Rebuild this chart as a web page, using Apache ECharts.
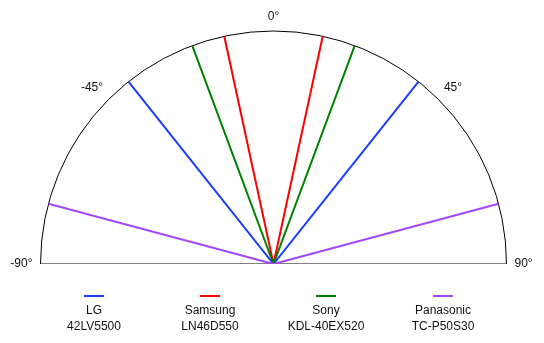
<!DOCTYPE html>
<html>
<head>
<meta charset="utf-8">
<script src="https://cdn.jsdelivr.net/npm/echarts@6/dist/echarts.min.js"></script>
<style>html,body{margin:0;padding:0;background:#fff}#c{width:544px;height:343px}</style>
</head>
<body>
<div id="c"></div>
<script>
// Data
var brands = ['LG', 'Samsung', 'Sony', 'Panasonic'];
var models = ['42LV5500', 'LN46D550', 'KDL-40EX520', 'TC-P50S30'];
var viewAngles = [38.5, 12.2, 20.4, 75.0]; // half viewing angle in degrees
var colors = ['#1a3cff', '#ff0000', '#008000', '#a347ff'];
var angleTicks = [-90, -45, 0, 45, 90];
var baseline = [[1, -90], [0, 0], [1, 90]];

var chart = echarts.init(document.getElementById('c'), null, {renderer: 'canvas'});
var FONT = '"Liberation Sans", Arial, Helvetica, sans-serif';
var cx = 273.5, cy = 264, R = 233;
var legendCenters = [94, 210, 326, 443];

var series = [{
  type: 'line', coordinateSystem: 'polar', name: '__base', silent: true,
  data: baseline, symbol: 'none', lineStyle: {color: '#000', width: 1},
  z: 1
}];
brands.forEach(function (b, i) {
  var a = viewAngles[i];
  series.push({
    type: 'line', coordinateSystem: 'polar', name: b,
    data: [[1, -a], [0, 0], [1, a]],
    symbol: 'none', color: colors[i],
    lineStyle: {color: colors[i], width: 2}, z: 3
  });
});

var legends = [];
brands.forEach(function (b, i) {
  legends.push({
    data: [b], left: legendCenters[i] - 10, top: 295, padding: 0,
    itemWidth: 20, itemHeight: 2, icon: 'rect', itemGap: 0,
    formatter: function () { return ''; },
    textStyle: {fontSize: 12, lineHeight: 12}
  });
  legends.push({
    data: [b], left: legendCenters[i] - 5 - 50, top: 305, padding: 0,
    itemWidth: 0, itemHeight: 0, icon: 'none', itemGap: 0,
    formatter: function (name) { return '{a|' + name + '}\n{a|' + models[i] + '}'; },
    textStyle: {
      rich: {a: {width: 100, align: 'center', fontSize: 12, lineHeight: 16, color: '#111', fontFamily: FONT}}
    }
  });
});

chart.setOption({
  animation: false,
  backgroundColor: '#fff',
  textStyle: {fontFamily: FONT},
  polar: {center: [cx, cy], radius: R},
  angleAxis: {
    type: 'value', min: -90, max: 90, interval: 45,
    startAngle: 180, endAngle: 0, clockwise: true,
    axisLine: {show: true, lineStyle: {color: '#000', width: 1}},
    axisTick: {show: false},
    splitLine: {show: false},
    axisLabel: {
      show: true, margin: 8, color: '#111', fontSize: 12, fontFamily: FONT,
      formatter: function (v) { return angleTicks.indexOf(v) >= 0 ? v + '°' : ''; }
    }
  },
  radiusAxis: {
    type: 'value', min: 0, max: 1, show: false,
    axisLine: {show: false}, axisTick: {show: false}, axisLabel: {show: false}, splitLine: {show: false}
  },
  legend: legends,
  series: series
});
</script>
</body>
</html>
